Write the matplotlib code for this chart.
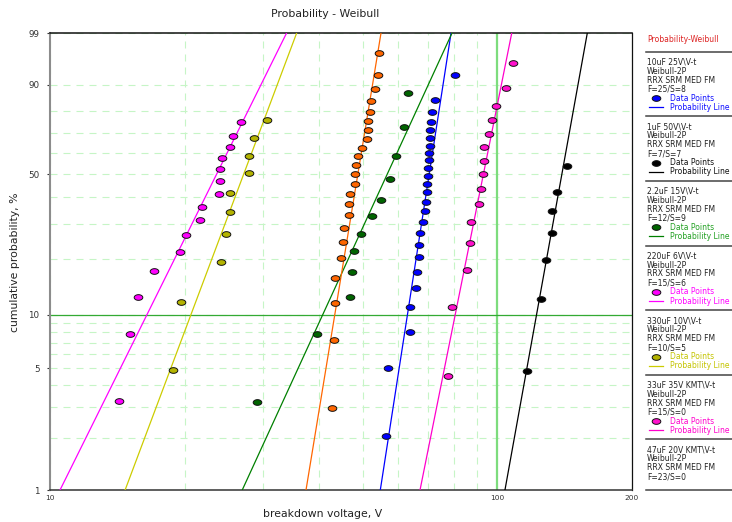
#!/usr/bin/env python3
import matplotlib

matplotlib.use("Agg")
import matplotlib.pyplot as plt
from matplotlib.lines import Line2D
from matplotlib.path import Path
from matplotlib.ticker import FixedFormatter, FixedLocator, NullFormatter
import numpy as np

plt.rcParams["font.family"] = ["DejaVu Sans"]

# ---- data (voltage in V, cumulative probability in %) ----
blue_v = [80.3, 72.7, 71.6, 71.2, 70.8, 70.6, 70.6, 70.4, 70.4, 70.0, 69.9, 69.8, 69.8,
          69.3, 68.8, 68.3, 67.3, 66.7, 66.7, 66.0, 65.8, 63.8, 63.8, 57.0, 56.4]
blue_p = [92.8, 84.8, 79.6, 75.1, 71.3, 67.6, 63.8, 60.2, 56.6, 52.9, 49.2, 45.4, 42.0,
          38.1, 34.5, 30.7, 27.1, 23.5, 20.4, 17.1, 14.0, 11.0, 8.0, 5.0, 2.06]

black_v = [143.2, 136.2, 132.3, 132.3, 128.3, 125.2, 116.3]
black_p = [54.0, 42.1, 34.6, 27.1, 19.6, 12.2, 4.82]

green_v = [63.3, 61.9, 59.3, 57.5, 54.9, 52.4, 49.5, 47.9, 47.3, 46.9, 39.5, 29.0]
green_p = [87.1, 72.9, 58.6, 47.8, 38.8, 32.6, 26.8, 21.9, 17.1, 12.5, 7.85, 3.22]

magenta_v = [26.7, 25.6, 25.3, 24.3, 24.0, 24.0, 23.9, 21.9, 21.6, 20.1, 19.5, 17.1,
             15.7, 15.1, 14.3]
magenta_p = [75.2, 68.7, 63.2, 57.6, 52.3, 46.9, 41.4, 35.9, 31.2, 26.5, 21.7, 17.2,
             12.5, 7.85, 3.24]

olive_v = [30.5, 28.6, 27.9, 27.8, 25.3, 25.2, 24.8, 24.1, 19.6, 18.8]
olive_p = [76.2, 67.6, 58.9, 50.4, 41.7, 34.3, 26.7, 19.2, 11.75, 4.92]

pink_v = [108.2, 104.4, 99.5, 97.2, 96.0, 93.2, 93.2, 93.0, 91.8, 90.9, 87.3, 87.0,
          85.4, 79.3, 77.5]
pink_p = [95.45, 88.96, 82.47, 75.97, 69.48, 62.99, 56.49, 50.0, 43.51, 37.01, 30.52,
          24.03, 17.53, 11.04, 4.55]

orange_v = [54.5, 54.2, 53.4, 52.3, 51.8, 51.5, 51.5, 51.1, 49.9, 48.9, 48.2, 48.1,
            48.0, 46.9, 46.7, 46.5, 45.4, 45.2, 44.8, 43.4, 43.3, 43.1, 42.6]
orange_p = [97.01, 92.74, 88.46, 84.19, 79.91, 75.64, 71.37, 67.09, 62.82, 58.55, 54.27,
            50.0, 45.73, 41.45, 37.18, 32.91, 28.63, 24.36, 20.09, 15.81, 11.54, 7.26, 2.99]

# fitted probability lines: voltage where each line crosses 1 % and 99 %
line_v_at_1 = [54.75, 104.0, 26.9, 10.53, 14.72, 67.17, 37.35]
line_v_at_99 = [78.8, 158.9, 79.2, 33.8, 35.6, 107.7, 54.95]

series_names = ["10uF 25V\\V-t", "1uF 50V\\V-t", "2.2uF 15V\\V-t", "220uF 6V\\V-t",
                "330uF 10V\\V-t", "33uF 35V KMT\\V-t", "47uF 20V KMT\\V-t"]
series_counts = ["F=25/S=8", "F=7/S=7", "F=12/S=9", "F=15/S=6", "F=10/S=5",
                 "F=15/S=0", "F=23/S=0"]
series_volts = [blue_v, black_v, green_v, magenta_v, olive_v, pink_v, orange_v]
series_pcts = [blue_p, black_p, green_p, magenta_p, olive_p, pink_p, orange_p]

x_ticks = [10, 100, 200]
y_ticks = [1, 5, 10, 50, 90, 99]
x_grid = [20, 30, 40, 50, 60, 70, 80, 90]
y_grid = [2, 3, 4, 6, 7, 8, 9, 20, 30, 40, 60, 70, 80]

# ---- styles ----
LINE_COLORS = ["#0000ff", "#000000", "#008000", "#ff00ff", "#cccc00", "#ff00cc", "#ff6600"]
FACE_COLORS = ["#0000ff", "#000000", "#006400", "#ff00ff", "#b4b400", "#ff10cc", "#ff6600"]
TEXT_COLORS = ["#1010ff", "#111111", "#22a022", "#ff00ff", "#c4c400", "#ff00cc", "#ff6600"]
GRID_COLOR = "#c6f5c6"
W, H = 732, 522

theta = np.linspace(0, 2 * np.pi, 41)
ELLIPSE = Path(np.column_stack([np.cos(theta), 0.66 * np.sin(theta)]), closed=True)


def _fwd(p):
    p = np.clip(np.asarray(p, dtype=float), 1e-6, 100 - 1e-6)
    return np.log(-np.log(1 - p / 100.0))


def _inv(w):
    return 100.0 * (1 - np.exp(-np.exp(np.asarray(w, dtype=float))))


def fx(px):
    return px / W


def fy(py):
    return 1 - py / H


fig = plt.figure(figsize=(W / 100, H / 100), dpi=100)
ax = fig.add_axes([fx(50), fy(490), (632 - 50) / W, (490 - 33) / H])
ax.set_xscale("log")
ax.set_yscale("function", functions=(_fwd, _inv))
ax.set_xlim(10, 200)
ax.set_ylim(1, 99)

ax.xaxis.set_major_locator(FixedLocator(x_ticks))
ax.xaxis.set_major_formatter(FixedFormatter([str(t) for t in x_ticks]))
ax.xaxis.set_minor_locator(FixedLocator(x_grid))
ax.xaxis.set_minor_formatter(NullFormatter())
ax.yaxis.set_major_locator(FixedLocator(y_ticks))
ax.yaxis.set_major_formatter(FixedFormatter([str(t) for t in y_ticks]))
ax.yaxis.set_minor_locator(FixedLocator(y_grid))
ax.yaxis.set_minor_formatter(NullFormatter())

dash = (0, (6.3, 5.4))
ax.grid(True, which="both", color=GRID_COLOR, linestyle=dash, linewidth=0.8)
ax.set_axisbelow(True)
ax.axvline(100, color="#7ddc7d", linewidth=1.6, zorder=1.5)
ax.axhline(10, color="#33aa33", linewidth=0.9, zorder=1.5)

ax.tick_params(axis="x", which="major", length=0, pad=3.5, labelsize=5.3, colors="#333333")
ax.tick_params(axis="y", which="major", length=2.5, width=0.8, pad=5, labelsize=6.3,
               colors="#333333")
ax.tick_params(which="minor", length=0)

ax.spines["left"].set_color("#8c8c8c")
ax.spines["left"].set_linewidth(1.5)
ax.spines["bottom"].set_color("#333333")
ax.spines["bottom"].set_linewidth(1.1)
ax.spines["top"].set_color("#111111")
ax.spines["top"].set_linewidth(1.1)
ax.spines["right"].set_color("#111111")
ax.spines["right"].set_linewidth(0.9)

for i in range(len(series_names)):
    ax.plot([line_v_at_1[i], line_v_at_99[i]], [1, 99], color=LINE_COLORS[i],
            linewidth=0.9, zorder=3)
    ax.plot(series_volts[i], series_pcts[i], linestyle="none", marker=ELLIPSE,
            markersize=6.2, markerfacecolor=FACE_COLORS[i], markeredgecolor="#111111",
            markeredgewidth=0.7, zorder=4)

fig.text(fx(325), fy(14), "Probability - Weibull", ha="center", va="center",
         fontsize=7.8, color="#222222")
fig.text(fx(323), fy(514), "breakdown voltage, V", ha="center", va="center",
         fontsize=7.8, color="#222222")
fig.text(fx(15), fy(262), "cumulative probability, %", ha="center", va="center",
         rotation=90, fontsize=7.8, color="#222222")

# ---- legend panel on the right ----
fig.text(fx(647), fy(39), "Probability-Weibull", ha="left", va="center", fontsize=5.5,
         color="#dd2222")


def _sep(py):
    fig.add_artist(Line2D([fx(646), fx(732)], [fy(py), fy(py)], color="#444444",
                          linewidth=1.1))


top = 51.7
pitch = 64.6
for i, name in enumerate(series_names):
    y0 = top + pitch * i
    _sep(y0)
    lines = [name, "Weibull-2P", "RRX SRM MED FM", series_counts[i]]
    for k, txt in enumerate(lines):
        fig.text(fx(647), fy(y0 + 10.5 + 9 * k), txt, ha="left", va="center",
                 fontsize=5.5, color="#222222")
    if i == len(series_names) - 1:
        continue
    yd = y0 + 10.5 + 9 * 4
    yl = y0 + 10.5 + 9 * 5
    fig.add_artist(Line2D([fx(656)], [fy(yd)], linestyle="none", marker=ELLIPSE,
                          markersize=6.2, markerfacecolor=FACE_COLORS[i],
                          markeredgecolor="#111111", markeredgewidth=0.7))
    fig.text(fx(670), fy(yd), "Data Points", ha="left", va="center", fontsize=5.5,
             color=TEXT_COLORS[i])
    fig.add_artist(Line2D([fx(649), fx(663)], [fy(yl), fy(yl)], color=LINE_COLORS[i],
                          linewidth=0.9))
    fig.text(fx(670), fy(yl), "Probability Line", ha="left", va="center", fontsize=5.5,
             color=TEXT_COLORS[i])
_sep(490)

fig.savefig("out.png", dpi=100)
